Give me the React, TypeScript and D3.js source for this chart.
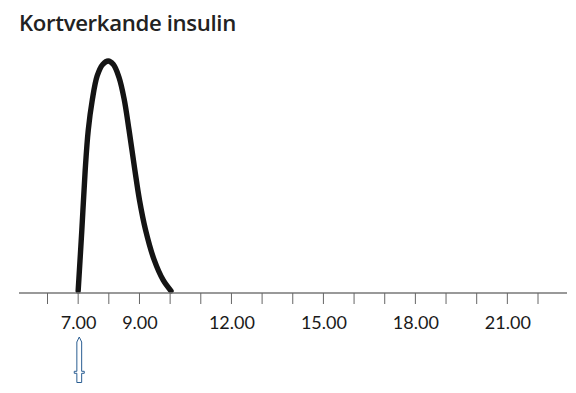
import React from "react";
import * as d3 from "d3";

const title = "Kortverkande insulin";
const tickHours = [6, 7, 8, 9, 10, 11, 12, 13, 14, 15, 16, 17, 18, 19, 20, 21, 22];
const labelHours = [7, 9, 12, 15, 18, 21];
const curveHours = [7.0, 7.12, 7.23, 7.33, 7.46, 7.62, 7.8, 7.98, 8.15, 8.33, 8.5, 8.66, 8.85, 9.0, 9.2, 9.48, 9.77, 10.03];
const curveValues = [0, 26.5, 52.6, 70, 83, 93.5, 98.5, 100, 98.5, 93, 83.5, 70, 52.6, 39.6, 26.5, 13.5, 4.8, 0];
const injectionHour = 7;

const W = 576, H = 393;
const x = d3.scaleLinear().domain([6, 22]).range([47.5, 538]);
const y = d3.scaleLinear().domain([0, 100]).range([291, 61]);
const line = d3.line<number>()
  .x((_, i) => x(curveHours[i]))
  .y((d) => y(d))
  .curve(d3.curveCatmullRom.alpha(0.5));

export default function App() {
  const ax = x(injectionHour) + 1.1;
  return (
    <svg width={W} height={H} viewBox={`0 0 ${W} ${H}`} style={{ position: "absolute", left: 0, top: 0, background: "#fff" }}>
      <text x={19} y={31} fontFamily="'Open Sans'" fontWeight={600} fontSize={22.2} fill="#222" letterSpacing={-0.35}>{title}</text>
      <path d={line(curveValues) ?? ""} fill="none" stroke="#141414" strokeWidth={5.4} strokeLinecap="round" strokeLinejoin="round" />
      <line x1={19} x2={567} y1={293} y2={293} stroke="#777" strokeWidth={1.6} />
      {tickHours.map((h) => (
        <line key={h} x1={x(h)} x2={x(h)} y1={293} y2={304} stroke="#666" strokeWidth={1} />
      ))}
      {labelHours.map((h) => (
        <text key={h} x={x(h) + 0.5} y={329} textAnchor="middle" fontFamily="Lato" fontSize={18} fill="#1a1a1a">{`${h}.00`}</text>
      ))}
      <path
        d={`M${ax - 2.4},382.5 V373.3 H${ax - 5} V371.3 H${ax - 2.4} V342 L${ax},337 L${ax + 2.4},342 V371.3 H${ax + 5} V373.3 H${ax + 2.4} V382.5 Z`}
        fill="#fff" stroke="#2a5d92" strokeWidth={1}
      />
    </svg>
  );
}
